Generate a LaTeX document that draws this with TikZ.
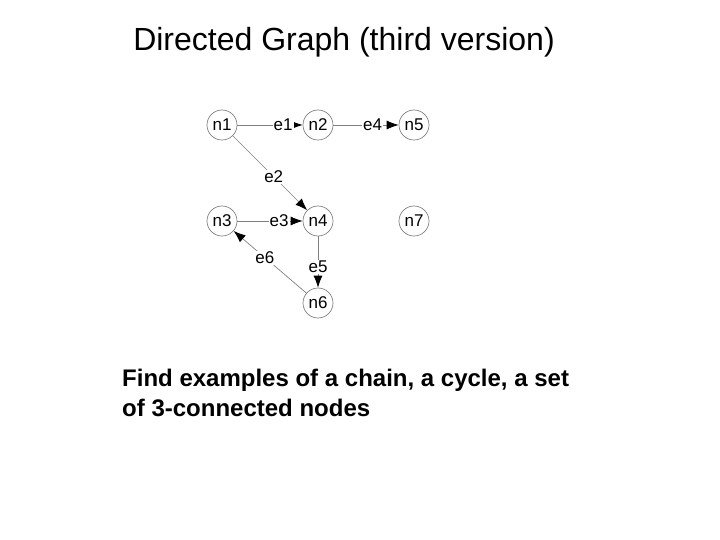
\documentclass[tikz,border=0pt]{standalone}
\usepackage{fontspec}
\setmainfont{Liberation Sans}
\usepackage{xcolor}
\usepackage{tikz}
\usetikzlibrary{arrows.meta}

\begin{document}
\begin{tikzpicture}[x=1pt, y=-1pt, node distance=96pt,
    vertex/.style={circle, draw=gray, line width=0.7pt, minimum size=30pt, inner sep=0pt, font=\fontsize{17}{19}\selectfont},
    edge/.style={draw=gray, line width=0.7pt, -{Latex[length=12pt, width=9pt, black]}},
    elabel/.style={fill=white, inner sep=1pt, font=\fontsize{17}{19}\selectfont}]
    \useasboundingbox (0,0) rectangle (720,540);
    \node (title) at (344,42) {\fontsize{32}{36}\selectfont Directed Graph (third version)};
    \node (n1) at (222,125) [vertex] {n1};
    \node[vertex] (n2) [right of=n1] {n2};
    \node[vertex] (n5) [right of=n2] {n5};
    \node[vertex] (n3) [below of=n1] {n3};
    \node[vertex] (n4) [right of=n3] {n4};
    \node[vertex] (n7) [right of=n4] {n7};
    \node[vertex] (n6) [below of=n4, node distance=82pt] {n6};
    \draw[edge] (n1) -- node[elabel, pos=0.7] {e1} (n2);
    \draw[edge] (n2) -- node[elabel, pos=0.6] {e4} (n5);
    \draw[edge] (n1) -- node[elabel, pos=0.55] {e2} (n4);
    \draw[edge] (n3) -- node[elabel, pos=0.64] {e3} (n4);
    \draw[edge] (n4) -- node[elabel, pos=0.6] {e5} (n6);
    \draw[edge] (n6) -- node[elabel, pos=0.57] {e6} (n3);
    \node (task) at (122,393) [anchor=west, align=left, inner sep=0pt, font=\fontsize{24}{30}\selectfont\bfseries]
        {Find examples of a chain, a cycle, a set\\of 3-connected nodes};
\end{tikzpicture}
\end{document}
